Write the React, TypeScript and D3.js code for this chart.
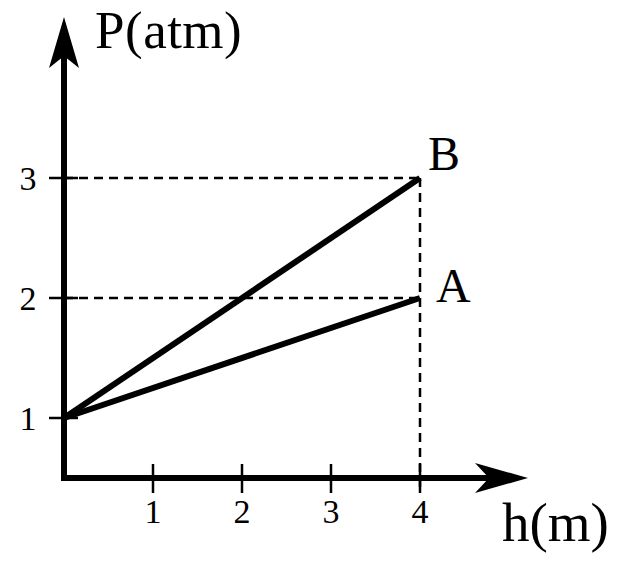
import React, { useEffect, useRef } from 'react';
import * as d3 from 'd3';

const xTicks = [1, 2, 3, 4];
const yTicks = [1, 2, 3];
const lineA = [
  { h: 0, p: 1 },
  { h: 4, p: 2 },
];
const lineB = [
  { h: 0, p: 1 },
  { h: 4, p: 3 },
];
const labels = [
  { name: 'A', h: 4, p: 2 },
  { name: 'B', h: 4, p: 3 },
];

const W = 620;
const H = 561;

const App = () => {
  const ref = useRef<SVGSVGElement | null>(null);

  useEffect(() => {
    const svg = d3.select(ref.current);
    svg.selectAll('*').remove();

    const x = d3.scaleLinear().domain([0, 4]).range([64, 420]);
    const y = d3.scaleLinear().domain([0.5, 3]).range([478, 178]);
    const font = '"Liberation Serif", "DejaVu Serif", serif';

    const x0 = x(0);
    const y0 = y(0.5);

    // dashed guides
    yTicks.filter((t) => t > 1).forEach((t) => {
      svg.append('line')
        .attr('x1', x0).attr('x2', x(4))
        .attr('y1', y(t)).attr('y2', y(t))
        .attr('stroke', '#000').attr('stroke-width', 2.5)
        .attr('stroke-dasharray', '9,6');
    });
    svg.append('line')
      .attr('x1', x(4)).attr('x2', x(4))
      .attr('y1', y(3)).attr('y2', y0 + 14)
      .attr('stroke', '#000').attr('stroke-width', 2.5)
      .attr('stroke-dasharray', '9,6');

    // axes
    svg.append('line')
      .attr('x1', x0 - 3).attr('x2', 500)
      .attr('y1', y0).attr('y2', y0)
      .attr('stroke', '#000').attr('stroke-width', 6);
    svg.append('line')
      .attr('x1', x0).attr('x2', x0)
      .attr('y1', y0 + 3).attr('y2', 45)
      .attr('stroke', '#000').attr('stroke-width', 6);
    // arrow heads
    svg.append('path')
      .attr('d', `M${x0},17 L${x0 + 15},68 L${x0},56 L${x0 - 15},68 Z`)
      .attr('fill', '#000');
    svg.append('path')
      .attr('d', `M528,${y0} L475,${y0 - 15} L489,${y0} L475,${y0 + 15} Z`)
      .attr('fill', '#000');

    // ticks
    xTicks.forEach((t) => {
      svg.append('line')
        .attr('x1', x(t)).attr('x2', x(t))
        .attr('y1', y0 - 14).attr('y2', y0 + 15)
        .attr('stroke', '#000').attr('stroke-width', 2.5);
      svg.append('text')
        .attr('x', x(t)).attr('y', y0 + 45)
        .attr('text-anchor', 'middle')
        .attr('font-family', font).attr('font-size', 34)
        .text(String(t));
    });
    yTicks.forEach((t) => {
      svg.append('line')
        .attr('x1', x0 - 15).attr('x2', x0 + 14)
        .attr('y1', y(t)).attr('y2', y(t))
        .attr('stroke', '#000').attr('stroke-width', 2.5);
      svg.append('text')
        .attr('x', 28).attr('y', y(t) + 12)
        .attr('text-anchor', 'middle')
        .attr('font-family', font).attr('font-size', 34)
        .text(String(t));
    });

    // data lines
    const line = d3.line<{ h: number; p: number }>()
      .x((d) => x(d.h))
      .y((d) => y(d.p));
    [lineA, lineB].forEach((d) => {
      svg.append('path')
        .attr('d', line(d))
        .attr('fill', 'none')
        .attr('stroke', '#000')
        .attr('stroke-width', 6)
        .attr('stroke-linecap', 'butt');
    });

    labels.forEach((l) => {
      svg.append('text')
        .attr('x', x(l.h) + (l.name === 'A' ? 16 : 8))
        .attr('y', y(l.p) - (l.name === 'A' ? -4 : 8))
        .attr('font-family', font).attr('font-size', 48)
        .text(l.name);
    });

    svg.append('text')
      .attr('x', 95).attr('y', 48)
      .attr('font-family', font).attr('font-size', 53)
      .attr('letter-spacing', 0.5)
      .text('P(atm)');
    svg.append('text')
      .attr('x', 502).attr('y', 541)
      .attr('font-family', font).attr('font-size', 55)
      .text('h(m)');
  }, []);

  return (
    <svg ref={ref} width={W} height={H} style={{ display: 'block', position: 'absolute', left: 0, top: 0, background: '#fff' }} />
  );
};

export default App;
